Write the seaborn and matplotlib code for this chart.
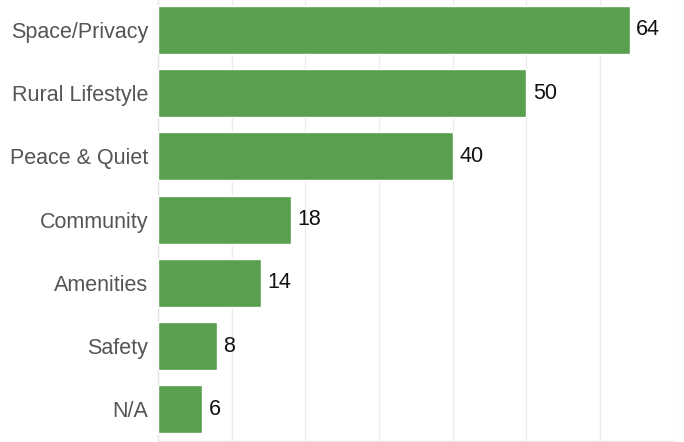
import matplotlib
matplotlib.use("Agg")
import matplotlib.pyplot as plt
import seaborn as sns
import pandas as pd

categories = ["Space/Privacy", "Rural Lifestyle", "Peace & Quiet", "Community",
              "Amenities", "Safety", "N/A"]
counts = [64, 50, 40, 18, 14, 8, 6]

sns.set_style("white")
plt.rcParams["font.family"] = ["Liberation Sans", "DejaVu Sans"]

df = pd.DataFrame({"reason": categories, "count": counts})

fig = plt.figure(figsize=(6.84, 4.42), dpi=100)
ax = fig.add_axes([0.231, 0.0023, 0.754, 1.0014])

sns.barplot(data=df, x="count", y="reason", orient="h", color="#5a9f50",
            saturation=1, width=0.76, ax=ax, zorder=3)

ax.set_xlim(0, 70)
ax.set_xticks(range(0, 71, 10))
ax.set_xticklabels([])
ax.grid(axis="x", color="#ececec", linewidth=1, zorder=0)
ax.tick_params(axis="both", length=0)
ax.tick_params(axis="y", labelsize=15.5, labelcolor="#555555", pad=7)
ax.set_xlabel("")
ax.set_ylabel("")

for side in ["top", "right"]:
    ax.spines[side].set_visible(False)
for side in ["left", "bottom"]:
    ax.spines[side].set_color("#e6e6e6")
    ax.spines[side].set_linewidth(1)

for i, v in enumerate(counts):
    ax.text(v + 0.9, i, str(v), va="center", ha="left", fontsize=15.5,
            color="#111111")

fig.savefig("out.png", dpi=100)
